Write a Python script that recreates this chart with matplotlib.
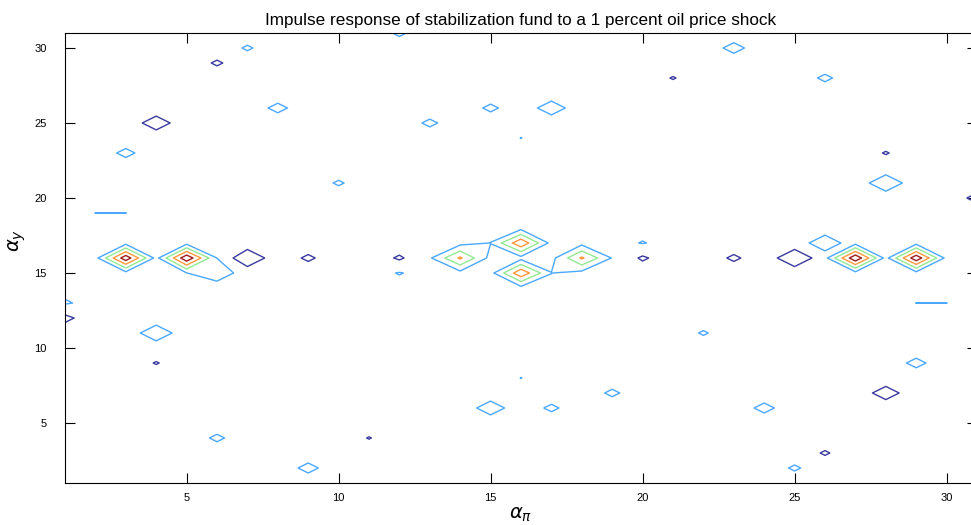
import numpy as np
import matplotlib.pyplot as plt

# grid of alpha_pi (x) and alpha_y (y) values
alpha_pi = np.arange(1, 32)
alpha_y = np.arange(1, 32)

# non-zero responses on the grid (everything else is 0)
pos_x = [3, 5, 6, 27, 29,
         14, 16, 16, 18, 15, 17,
         7, 8, 13, 10, 3, 15, 17, 23, 26, 28, 20, 12, 22, 29, 4, 1,
         15, 17, 19, 16, 16, 24, 25, 9, 6, 12,
         2, 3, 29, 30]
pos_y = [16, 16, 15, 16, 16,
         16, 17, 15, 16, 17, 15,
         30, 26, 25, 21, 23, 26, 26, 30, 28, 21, 17, 15, 11, 9, 11, 13,
         6, 6, 7, 8, 24, 6, 2, 2, 4, 31,
         19, 19, 13, 13]
pos_val = [12.0, 12.4, 2.2, 12.5, 12.2,
           7.5, 9.4, 9.3, 7.5, 1.05, 1.05,
           1.22, 1.47, 1.35, 1.22, 1.43, 1.35, 1.85, 1.54, 1.33, 2.2, 1.15, 1.15, 1.19, 1.47, 2.1, 1.33,
           1.85, 1.33, 1.33, 1.03, 1.03, 1.5, 1.25, 1.5, 1.33, 1.3,
           1.02, 1.02, 1.02, 1.02]

neg_x = [6, 4, 7, 9, 12, 21, 28, 31, 25, 23, 20, 4, 28, 26, 11, 1]
neg_y = [29, 25, 16, 16, 16, 28, 23, 20, 16, 16, 16, 9, 7, 3, 4, 12]
neg_val = [-2.47, -3.7, -4.65, -2.6, -2.47, -2.22, -2.25, -3.0, -4.65, -2.6, -2.5, -2.22, -3.57, -2.38, -2.17, -2.86]

# small values just below the first level (shape the merged outlines)
near_x = [6, 5, 13, 19]
near_y = [16, 15, 16, 16]
near_val = [0.97, 0.97, 0.6, 0.8]

# peak whose outline stays apart from its neighbour
solo_x = [26]
solo_y = [17]
solo_val = [2.1]

levels = [-2, 1, 4, 7, 10]
level_colors = ['#3a3aa0', '#4aa8ff', '#93ea93', '#ff9a3c', '#a01c1c']


def build_grid(groups):
    Z = np.zeros((len(alpha_y), len(alpha_pi)))
    for xs, ys, vs in groups:
        for x, y, v in zip(xs, ys, vs):
            Z[y - 1, x - 1] = v
    return Z


Z = build_grid([(pos_x, pos_y, pos_val), (neg_x, neg_y, neg_val), (near_x, near_y, near_val)])
Z_solo = build_grid([(solo_x, solo_y, solo_val)])

plt.rcParams['font.family'] = ['Liberation Sans', 'DejaVu Sans']

fig = plt.figure(figsize=(9.71, 5.25), dpi=100)
ax = fig.add_axes([65 / 971, 1 - 483 / 525, (977 - 65) / 971, (483 - 33) / 525])

X, Y = np.meshgrid(alpha_pi, alpha_y)
ax.contour(X, Y, Z, levels=levels, colors=level_colors, linewidths=1.0)
ax.contour(X, Y, Z_solo, levels=levels, colors=level_colors, linewidths=1.0)

ax.set_xlim(1, 31)
ax.set_ylim(1, 31)
ax.set_xticks([5, 10, 15, 20, 25, 30])
ax.set_yticks([5, 10, 15, 20, 25, 30])
ax.tick_params(direction='in', length=7, width=0.8, labelsize=8,
               top=True, right=True)
ax.tick_params(axis='x', pad=7)
ax.tick_params(axis='y', pad=13)
for s in ax.spines.values():
    s.set_linewidth(0.8)

ax.set_title('Impulse response of stabilization fund to a 1 percent oil price shock',
             fontsize=12.3, pad=6)
ax.set_xlabel(r'$\alpha_\pi$', fontsize=14, labelpad=2)
ax.set_ylabel(r'$\alpha_y$', fontsize=14)
ax.yaxis.set_label_coords(-0.041, 0.54)

fig.savefig('out.png', dpi=100)
